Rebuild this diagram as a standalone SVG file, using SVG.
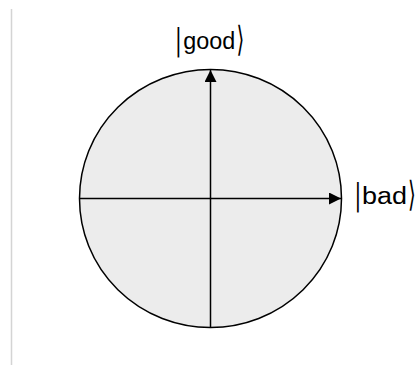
<svg xmlns="http://www.w3.org/2000/svg" width="419" height="367" viewBox="0 0 419 367">
<defs>
<style>
.lbl{font-family:"Liberation Sans",Arial,sans-serif;font-size:23px;fill:#000;}
.bar{font-family:"DejaVu Sans",sans-serif;font-size:20px;fill:#000;}
.br{font-family:"DejaVu Sans",sans-serif;font-size:20px;fill:#000;}
.ax{stroke:#000;stroke-width:1.5;fill:none;}
</style>
<marker id="ah" viewBox="0 0 12 12" markerWidth="12" markerHeight="12" refX="12" refY="6" orient="auto" markerUnits="userSpaceOnUse">
<path d="M0,0 L12,6 L0,12 Z" fill="#000"/>
</marker>
</defs>
<rect width="419" height="367" fill="#fff"/>
<line x1="11.5" y1="9" x2="11.5" y2="365" stroke="#d4d4d4" stroke-width="1.5"/>
<g id="sphere">
<ellipse cx="210.5" cy="198.5" rx="131" ry="129" fill="#ececec" stroke="#000" stroke-width="1.5"/>
</g>
<g id="connectors">
<line class="ax" x1="79.5" y1="198.5" x2="341" y2="198.5" marker-end="url(#ah)"/>
<line class="ax" x1="210.5" y1="327.5" x2="210.5" y2="70" marker-end="url(#ah)"/>
</g>
<g id="label-good">
<text class="bar" transform="translate(175,50) scale(1,1.48)">|</text>
<text class="lbl" x="183.2" y="49" textLength="52" lengthAdjust="spacingAndGlyphs">good</text>
<text class="br" transform="translate(236.5,51) scale(1,1.75)">⟩</text>
</g>
<g id="label-bad">
<text class="bar" transform="translate(354.5,204.6) scale(1,1.48)">|</text>
<text class="lbl" x="362" y="204" textLength="45" lengthAdjust="spacingAndGlyphs">bad</text>
<text class="br" transform="translate(408,206) scale(1,1.75)">⟩</text>
</g>
</svg>
